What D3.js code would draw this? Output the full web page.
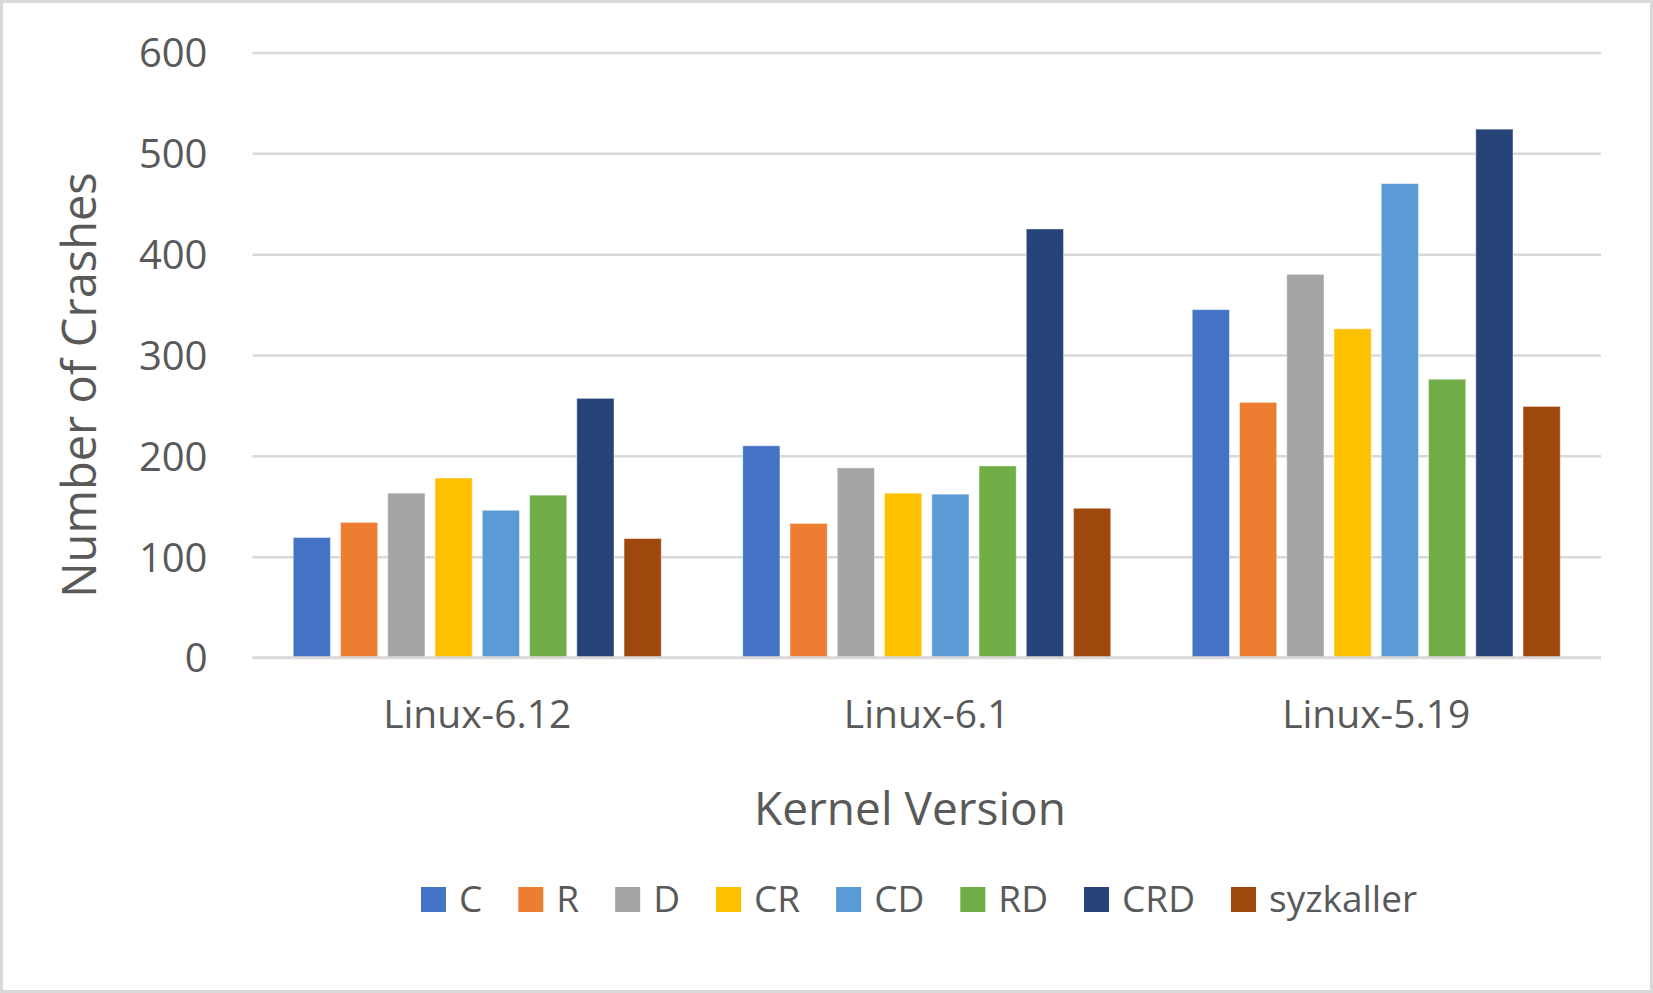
<!DOCTYPE html>
<html>
<head>
<meta charset="utf-8">
<script src="https://cdn.jsdelivr.net/npm/d3@7"></script>
<style>
    body { margin: 0; background: #fff; }
    text { font-family: "Open Sans", "Noto Sans", sans-serif; fill: #595959; }
</style>
</head>
<body>
<div id="graphic"></div>
<script>
// Data
var kernels = ["Linux-6.12", "Linux-6.1", "Linux-5.19"];
var series = ["C", "R", "D", "CR", "CD", "RD", "CRD", "syzkaller"];
var cVals = [119, 210, 345];
var rVals = [134, 133, 253];
var dVals = [163, 188, 380];
var crVals = [178, 163, 326];
var cdVals = [146, 162, 470];
var rdVals = [161, 190, 276];
var crdVals = [257, 425, 524];
var syzVals = [118, 148, 249];
var yTicks = [0, 100, 200, 300, 400, 500, 600];
var colors = ["#4472C4", "#ED7D31", "#A5A5A5", "#FFC000", "#5B9BD5", "#70AD47", "#264478", "#9E480E"];

var crashes = {
    "C": cVals, "R": rVals, "D": dVals, "CR": crVals,
    "CD": cdVals, "RD": rdVals, "CRD": crdVals, "syzkaller": syzVals
};

var W = 1653, H = 993;
var margin = {top: 52.5, right: 52, bottom: 335.5, left: 252.5};
var w = W - margin.left - margin.right;
var h = H - margin.top - margin.bottom;

var svg = d3.select('#graphic')
    .append('svg')
    .attr('width', W)
    .attr('height', H);

// cornice del grafico
svg.append('rect')
    .attr('x', 1.5).attr('y', 1.5)
    .attr('width', W - 3).attr('height', H - 3)
    .attr('fill', '#fff')
    .attr('stroke', '#d9d9d9')
    .attr('stroke-width', 3);

var g = svg.append('g')
    .attr('transform', 'translate(' + margin.left + ',' + margin.top + ')');

// Scale
var yScale = d3.scaleLinear().domain([0, 600]).range([h, 0]);
var x0 = d3.scaleBand().domain(kernels).range([0, w]).padding(0);
var x1 = d3.scaleBand().domain(series).range([0, x0.bandwidth()])
    .paddingInner(0.2126).paddingOuter(0.862);
var color = d3.scaleOrdinal().domain(series).range(colors);

// Griglia
g.append('g')
    .attr('class', 'grid')
    .call(d3.axisLeft(yScale).tickValues(yTicks).tickSize(-w).tickFormat(''))
    .call(function (s) { s.select('.domain').remove(); })
    .selectAll('line')
    .attr('stroke', '#d9d9d9')
    .attr('stroke-width', 2.5);

// Asse y (solo etichette)
g.append('g')
    .call(d3.axisLeft(yScale).tickValues(yTicks).tickSize(0).tickPadding(45))
    .call(function (s) { s.select('.domain').remove(); })
    .selectAll('text')
    .attr('font-size', '40px')
    .attr('dy', '0.36em')
    .style('fill', '#595959');

// Barre
var groups = g.selectAll('.group')
    .data(kernels)
    .enter()
    .append('g')
    .attr('class', 'group')
    .attr('transform', function (d) { return 'translate(' + x0(d) + ',0)'; });

groups.selectAll('rect')
    .data(function (k, i) {
        return series.map(function (s) { return {key: s, value: crashes[s][i]}; });
    })
    .enter()
    .append('rect')
    .attr('x', function (d) { return x1(d.key); })
    .attr('y', function (d) { return yScale(d.value); })
    .attr('width', x1.bandwidth())
    .attr('height', function (d) { return h - yScale(d.value); })
    .attr('fill', function (d) { return color(d.key); })
    .attr('stroke', '#fff')
    .attr('stroke-opacity', 0.45)
    .attr('stroke-width', 1);

// linea base
g.append('line')
    .attr('x1', 0).attr('x2', w)
    .attr('y1', h).attr('y2', h)
    .attr('stroke', '#d9d9d9')
    .attr('stroke-width', 2.5);

// Asse x
g.append('g')
    .attr('transform', 'translate(0,' + h + ')')
    .call(d3.axisBottom(x0).tickSize(0).tickPadding(43))
    .call(function (s) { s.select('.domain').remove(); })
    .selectAll('text')
    .attr('font-size', '39px')
    .style('fill', '#595959');

// Titoli assi
svg.append('text')
    .attr('x', 910)
    .attr('y', 825)
    .attr('text-anchor', 'middle')
    .attr('font-size', '46px')
    .text('Kernel Version');

svg.append('text')
    .attr('transform', 'translate(96,385) rotate(-90)')
    .attr('text-anchor', 'middle')
    .attr('font-size', '47px')
    .text('Number of Crashes');

// Legenda
var legend = svg.append('g').attr('class', 'legend');
var lx = 421;
series.forEach(function (s) {
    var item = legend.append('g').attr('transform', 'translate(' + lx + ',0)');
    item.append('rect')
        .attr('x', 0).attr('y', 887)
        .attr('width', 25).attr('height', 25)
        .attr('fill', color(s));
    var t = item.append('text')
        .attr('x', 38)
        .attr('y', 912)
        .attr('font-size', '37px')
        .text(s);
    lx += 38 + t.node().getComputedTextLength() + 36;
});
</script>
</body>
</html>
